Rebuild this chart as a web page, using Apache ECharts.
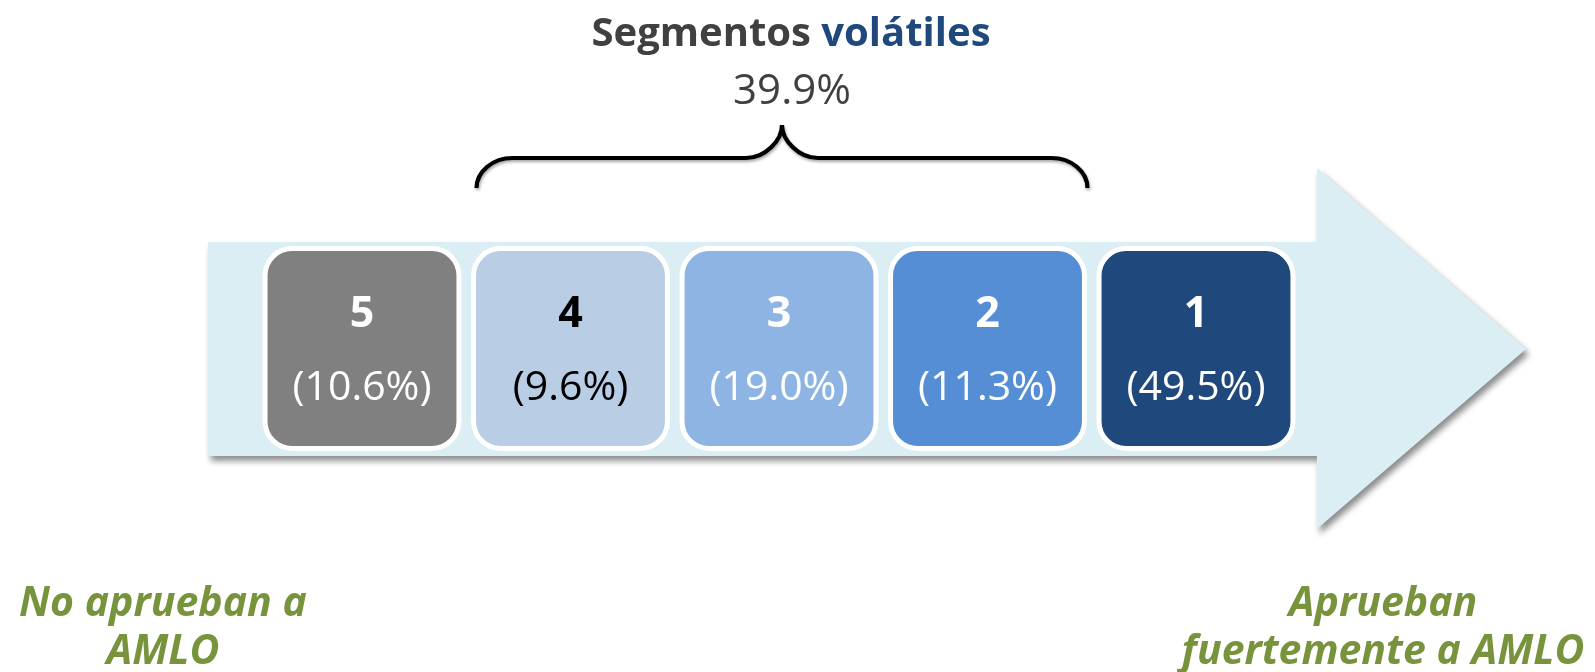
<!DOCTYPE html>
<html>
<head>
<meta charset="utf-8">
<script src="https://cdn.jsdelivr.net/npm/echarts@6/dist/echarts.min.js"></script>
<style>
  html, body { margin: 0; padding: 0; background: #fff; }
  #chart { width: 1595px; height: 672px; }
</style>
</head>
<body>
<div id="chart"></div>
<script>
// segmentos de aprobacion (5 = no aprueban ... 1 = aprueban fuertemente)
var segments = ['5', '4', '3', '2', '1'];
var shares = [10.6, 9.6, 19.0, 11.3, 49.5];
var volatileRange = [1, 3];       // indices de los segmentos volatiles (4, 3, 2)
var volatileShare = 39.9;
var leftLabel = 'No aprueban a\nAMLO';
var rightLabel = 'Aprueban\nfuertemente a AMLO';

var boxColors = ['#808080', '#B9CDE5', '#8EB4E3', '#558ED5', '#1F497D'];
var textColors = ['#ffffff', '#000000', '#ffffff', '#ffffff', '#ffffff'];
var FONT = '"Open Sans", "Noto Sans", sans-serif';

var chart = echarts.init(document.getElementById('chart'));

function renderArrow(params, api) {
  var a = api.value(0), b = api.value(1);
  var p = function (x, y) { return api.coord([x, y]); };
  var pts = [
    p(a - 0.739, 1.0325), p(b + 0.580, 1.0325), p(b + 0.580, 1.4025),
    p(b + 1.583, 0.4975),
    p(b + 0.580, -0.4025), p(b + 0.580, -0.0375), p(a - 0.739, -0.0375)
  ];
  return {
    type: 'polygon',
    shape: { points: pts },
    style: {
      fill: '#DAEEF3',
      shadowBlur: 6, shadowOffsetX: 3, shadowOffsetY: 5,
      shadowColor: 'rgba(0,0,0,0.45)'
    }
  };
}

function renderBox(params, api) {
  var i = api.value(0);
  var c = api.coord([i, 0.5]);
  var w = api.size([0.93, 0])[0];
  var h = api.size([0, 1])[1];
  var idx = params.dataIndex;
  return {
    type: 'group',
    children: [{
      type: 'rect',
      shape: { x: c[0] - w / 2, y: c[1] - h / 2, width: w, height: h, r: 27 },
      style: { fill: boxColors[idx], stroke: '#ffffff', lineWidth: 5 }
    }, {
      type: 'text',
      style: {
        text: segments[idx], x: c[0], y: c[1] - 34,
        fill: textColors[idx], fontSize: 43, fontWeight: 'bold', fontFamily: FONT,
        align: 'center', verticalAlign: 'middle'
      }
    }, {
      type: 'text',
      style: {
        text: '(' + api.value(1).toFixed(1) + '%)', x: c[0], y: c[1] + 40,
        fill: textColors[idx], fontSize: 41, fontFamily: FONT,
        align: 'center', verticalAlign: 'middle'
      }
    }]
  };
}

function renderBrace(params, api) {
  var l = api.coord([api.value(0) - 0.465, 1.3025]);
  var r = api.coord([api.value(1) + 0.465, 1.3025]);
  var yH = api.coord([0, 1.4525])[1];
  var yT = api.coord([0, 1.618])[1];
  var xL = l[0] + 3, xR = r[0] + 3, yE = l[1], xM = (xL + xR) / 2;
  var k = 0.55, rw = 36, rh = yE - yH, tw = 36, th = yH - yT;
  var d = 'M' + xL + ',' + yE +
    ' C' + xL + ',' + (yE - k * rh) + ' ' + (xL + rw - k * rw) + ',' + yH + ' ' + (xL + rw) + ',' + yH +
    ' L' + (xM - tw) + ',' + yH +
    ' C' + (xM - tw + k * tw) + ',' + yH + ' ' + xM + ',' + (yH - k * th) + ' ' + xM + ',' + yT +
    ' C' + xM + ',' + (yH - k * th) + ' ' + (xM + tw - k * tw) + ',' + yH + ' ' + (xM + tw) + ',' + yH +
    ' L' + (xR - rw) + ',' + yH +
    ' C' + (xR - rw + k * rw) + ',' + yH + ' ' + xR + ',' + (yE - k * rh) + ' ' + xR + ',' + yE;
  return {
    type: 'path',
    shape: { pathData: d },
    style: {
      fill: 'none', stroke: '#000000', lineWidth: 4.2,
      shadowBlur: 3, shadowOffsetX: 1, shadowOffsetY: 2, shadowColor: 'rgba(0,0,0,0.35)'
    }
  };
}

var option = {
  animation: false,
  grid: { left: 153.5, top: 248.5, width: 1251, height: 200 },
  xAxis: { type: 'value', min: -1, max: 5, show: false },
  yAxis: { type: 'value', min: 0, max: 1, show: false },
  graphic: [{
    type: 'text', x: 791, y: 35,
    style: {
      text: '{a|Segmentos }{b|volátiles}',
      align: 'center', verticalAlign: 'middle',
      rich: {
        a: { fontSize: 40, fontWeight: 'bold', fontFamily: FONT, fill: '#404040', color: '#404040' },
        b: { fontSize: 40, fontWeight: 'bold', fontFamily: FONT, fill: '#1F497D', color: '#1F497D' }
      }
    }
  }, {
    type: 'text', x: 792, y: 92,
    style: {
      text: volatileShare.toFixed(1) + '%', align: 'center', verticalAlign: 'middle',
      fontSize: 42, fontFamily: FONT, fill: '#404040'
    }
  }, {
    type: 'text', x: 163, y: 628,
    style: {
      text: leftLabel, align: 'center', verticalAlign: 'middle', lineHeight: 48,
      fontSize: 41, fontWeight: 'bold', fontStyle: 'italic', fontFamily: FONT, fill: '#77933C'
    }
  }, {
    type: 'text', x: 1383, y: 628,
    style: {
      text: rightLabel, align: 'center', verticalAlign: 'middle', lineHeight: 48,
      fontSize: 41, fontWeight: 'bold', fontStyle: 'italic', fontFamily: FONT, fill: '#77933C'
    }
  }],
  series: [{
    type: 'custom',
    name: 'flecha',
    z: 1,
    renderItem: renderArrow,
    data: [[0, segments.length - 1]]
  }, {
    type: 'custom',
    name: 'segmentos',
    z: 2,
    renderItem: renderBox,
    data: shares.map(function (v, i) { return [i, v]; })
  }, {
    type: 'custom',
    name: 'volatiles',
    z: 3,
    renderItem: renderBrace,
    data: [volatileRange]
  }]
};
chart.setOption(option);
</script>
</body>
</html>
